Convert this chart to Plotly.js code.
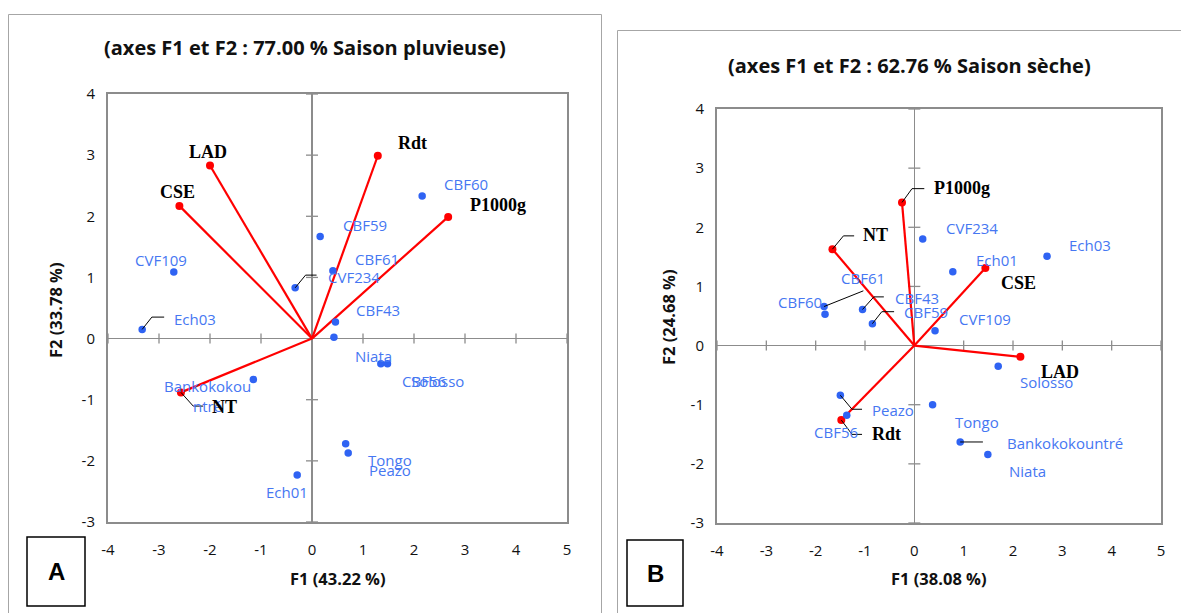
<!DOCTYPE html>
<html><head><meta charset="utf-8">
<script src="https://cdn.plot.ly/plotly-3.0.1.min.js"></script>
<style>html,body{margin:0;padding:0;background:#fff}#chart{width:1181px;height:613px}</style>
</head><body><div id="chart"></div>
<script>
// ---------- DATA: panel A (rainy season) ----------
var obsA = ['CBF60','CBF59','CBF61','CVF234','CBF43','CVF109','Ech03','Niata','CBF56','Solosso','Bankokokountré','Tongo','Peazo','Ech01'];
var obsA_F1 = [2.16, 0.16, 0.41, -0.33, 0.46, -2.71, -3.33, 0.43, 1.35, 1.48, -1.15, 0.66, 0.71, -0.29];
var obsA_F2 = [2.33, 1.67, 1.11, 0.83, 0.27, 1.09, 0.15, 0.02, -0.41, -0.41, -0.67, -1.72, -1.87, -2.23];
var varA = ['LAD','CSE','Rdt','P1000g','NT'];
var varA_F1 = [-2.00, -2.60, 1.29, 2.67, -2.57];
var varA_F2 = [2.83, 2.17, 2.99, 1.99, -0.88];

// ---------- DATA: panel B (dry season) ----------
var obsB = ['CVF234','Ech03','Ech01','CVF109','CBF61','CBF60','CBF43','CBF59','Peazo','CBF56','Solosso','Tongo','Bankokokountré','Niata'];
var obsB_F1 = [0.17, 2.69, 0.78, 0.42, -1.83, -1.81, -1.05, -0.85, -1.50, -1.37, 1.70, 0.37, 0.93, 1.49];
var obsB_F2 = [1.80, 1.51, 1.25, 0.25, 0.66, 0.53, 0.61, 0.37, -0.84, -1.18, -0.35, -1.00, -1.63, -1.84];
var varB = ['P1000g','NT','CSE','LAD','Rdt'];
var varB_F1 = [-0.25, -1.66, 1.44, 2.15, -1.48];
var varB_F2 = [2.42, 1.63, 1.31, -0.19, -1.26];

// ---------- TEXTS / TICKS ----------
var titleA = '(axes F1 et F2 : 77.00 % Saison pluvieuse)';
var titleB = '(axes F1 et F2 : 62.76 % Saison sèche)';
var xTitleA = 'F1 (43.22 %)', yTitleA = 'F2 (33.78 %)';
var xTitleB = 'F1 (38.08 %)', yTitleB = 'F2 (24.68 %)';
var xTicks = [-4,-3,-2,-1,0,1,2,3,4,5];
var yTicks = [-3,-2,-1,0,1,2,3,4];

// ---------- LABEL PLACEMENT (pixel offsets, screen y down) ----------
var offA = {
  'CBF60':[43.5,-11.7],'CBF59':[44.8,-11],'CBF61':[44.5,-12],'CVF234':[58.9,-11],'CBF43':[42.5,-12.3],
  'CVF109':[-13.2,-12],'Ech03':[52.8,-10.3],'Niata':[40,18.4],'CBF56':[43,17],'Solosso':[50,17],
  'Bankokokountré':[-46,16.7],'Tongo':[44,16],'Peazo':[42,17],'Ech01':[-10,17]
};
var offVarA = {'LAD':[-2,-13.4],'CSE':[-1.5,-13.7],'Rdt':[35,-12.7],'P1000g':[49.5,-12],'NT':[43.7,14.4]};
var leadA = {'Ech03':[[0,0],[9.7,-12.3],[22,-12.3]], 'CVF234':[[0,0],[10.4,-12.7],[21.4,-12.7]]};
var leadVarA = {'NT':[[0,0],[12.3,13.7],[22.3,13.7]]};

var offB = {
  'CVF234':[49,-11],'Ech03':[42.8,-11.3],'Ech01':[43.8,-12],'CVF109':[50,-12],'CBF61':[38.5,-29],
  'CBF60':[-25,-12.6],'CBF43':[54,-11],'CBF59':[53.7,-11.4],'Peazo':[52.5,15],'CBF56':[-10.4,16.4],
  'Solosso':[48.3,15.7],'Tongo':[44,17],'Bankokokountré':[105,0.7],'Niata':[40,16.4]
};
var offVarB = {'P1000g':[59.5,-14],'NT':[43.4,-14.3],'CSE':[33,15],'LAD':[40,15],'Rdt':[44.7,14.3]};
var leadB = {'CBF61':[[0,0],[39.3,-15.7]], 'CBF43':[[0,0],[11.3,-12.6],[21.3,-12.6]],
  'CBF59':[[0,0],[9.4,-12],[21.7,-12]], 'Peazo':[[0,0],[11.7,14],[21.7,14]], 'Bankokokountré':[[0,0],[22.7,0]]};
var leadVarB = {'P1000g':[[0,0],[10,-13.8],[22.3,-13.8]], 'NT':[[0,0],[11,-13.3],[21.7,-13.3]], 'Rdt':[[0,0],[10.7,14.3],[20.7,14.3]]};

// ---------- STYLES ----------
var W = 1181, H = 613;
var BLUE_M = '#2f63f3', BLUE_T = '#4677f2', RED = '#ff0000', GREY = '#8c8c8c';
var sansF = "'Open Sans', 'DejaVu Sans', sans-serif";
var serifF = "'Liberation Serif', 'DejaVu Serif', serif";
function px(x){return x/W;} function py(y){return 1-y/H;}

function vecTrace(xs, ys, xa, ya){
  var lx=[], ly=[];
  for(var i=0;i<xs.length;i++){ lx.push(0, xs[i], null); ly.push(0, ys[i], null); }
  return [
    {type:'scatter', mode:'lines', x:lx, y:ly, xaxis:xa, yaxis:ya, line:{color:RED, width:2.2}, hoverinfo:'skip'},
    {type:'scatter', mode:'markers', x:xs, y:ys, xaxis:xa, yaxis:ya, marker:{color:RED, size:8}, hoverinfo:'skip'}
  ];
}
function obsTrace(xs, ys, xa, ya){
  return {type:'scatter', mode:'markers', x:xs, y:ys, xaxis:xa, yaxis:ya, marker:{color:BLUE_M, size:7.5}, hoverinfo:'skip'};
}

var traces = [];
traces = traces.concat(vecTrace(varA_F1, varA_F2, 'x', 'y'));
traces.push(obsTrace(obsA_F1, obsA_F2, 'x', 'y'));
traces = traces.concat(vecTrace(varB_F1, varB_F2, 'x2', 'y2'));
traces.push(obsTrace(obsB_F1, obsB_F2, 'x2', 'y2'));

var annotations = [], shapes = [];

function labels(names, xs, ys, off, lead, xr, yr, font){
  for(var i=0;i<names.length;i++){
    var o = off[names[i]] || [40,-12];
    var txt = names[i];
    if(font === 'obs' && xr === 'x' && names[i] === 'Bankokokountré') txt = 'Bankokokou<br>ntré';
    annotations.push({xref:xr, yref:yr, x:xs[i], y:ys[i], text:txt, showarrow:false,
      xshift:o[0], yshift:-o[1], xanchor:'center', yanchor:'middle', align:'center',
      font: font==='obs' ? {family:sansF, size:15, color:BLUE_T} : {family:serifF, size:18, color:'#000', weight:'bold'}});
    var L = lead[names[i]];
    if(L){
      var p = 'M' + L.map(function(q){return q[0]+','+(-q[1]);}).join(' L');
      shapes.push({type:'path', xref:xr, yref:yr, xsizemode:'pixel', ysizemode:'pixel',
        xanchor:xs[i], yanchor:ys[i], path:p, line:{color:'#000', width:1}, layer:'above'});
    }
  }
}
labels(obsA, obsA_F1, obsA_F2, offA, leadA, 'x', 'y', 'obs');
labels(varA, varA_F1, varA_F2, offVarA, leadVarA, 'x', 'y', 'var');
labels(obsB, obsB_F1, obsB_F2, offB, leadB, 'x2', 'y2', 'obs');
labels(varB, varB_F1, varB_F2, offVarB, leadVarB, 'x2', 'y2', 'var');

// crossing tick marks on the zero axes
function zeroTicks(xr, yr){
  xTicks.forEach(function(t){ if(t!==0) shapes.push({type:'line', xref:xr, yref:yr, ysizemode:'pixel', yanchor:0,
    x0:t, x1:t, y0:-5, y1:5, line:{color:GREY, width:1.3}, layer:'below'}); });
  yTicks.forEach(function(t){ if(t!==0) shapes.push({type:'line', xref:xr, yref:yr, xsizemode:'pixel', xanchor:0,
    y0:t, y1:t, x0:-6, x1:6, line:{color:GREY, width:1.3}, layer:'below'}); });
}
zeroTicks('x','y'); zeroTicks('x2','y2');

// chart frames and panel letters
shapes.push({type:'rect', xref:'paper', yref:'paper', x0:px(8.5), x1:px(601.5), y0:py(620), y1:py(14.5), line:{color:'#a6a6a6', width:1}});
shapes.push({type:'rect', xref:'paper', yref:'paper', x0:px(617.5), x1:px(1185), y0:py(620), y1:py(30.5), line:{color:'#a6a6a6', width:1}});
shapes.push({type:'rect', xref:'paper', yref:'paper', x0:px(27), x1:px(85), y0:py(606), y1:py(537), line:{color:'#000', width:1.5}});
shapes.push({type:'rect', xref:'paper', yref:'paper', x0:px(627), x1:px(683), y0:py(606), y1:py(540), line:{color:'#000', width:1.5}});

function paperText(t, x, y, size, angle, fam, col){
  annotations.push({xref:'paper', yref:'paper', x:px(x), y:py(y), text:t, showarrow:false, textangle:angle||0,
    xanchor:'center', yanchor:'middle', font:{family:fam||sansF, size:size, color:col||'#111', weight:'bold'}});
}
paperText(titleA, 305, 47, 20);
paperText(titleB, 909, 65, 20);
paperText(xTitleA, 338, 578, 16.5);
paperText(xTitleB, 939, 578, 16.5);
paperText(yTitleA, 55, 310, 16.5, -90);
paperText(yTitleB, 668, 317, 16.5, -90);
paperText('A', 56, 571, 24, 0, "'Liberation Sans', Arial, sans-serif", '#000');
paperText('B', 655, 573, 24, 0, "'Liberation Sans', Arial, sans-serif", '#000');

function axis(domain, range, ticks, anchor, len){
  return {domain:domain, range:range, tickvals:ticks, ticktext:ticks.map(String), showgrid:false,
    zeroline:true, zerolinecolor:GREY, zerolinewidth:1.3, showline:true, mirror:true, linecolor:GREY, linewidth:2,
    ticks:'outside', ticklen:len, tickcolor:'rgba(0,0,0,0)', tickfont:{family:sansF, size:15, color:'#111'},
    anchor:anchor, fixedrange:true};
}
var layout = {
  width:W, height:H, margin:{l:0,r:0,t:0,b:0}, showlegend:false,
  paper_bgcolor:'#fff', plot_bgcolor:'#fff',
  xaxis: axis([px(108), px(567)], [-4,5], xTicks, 'y', 13),
  yaxis: axis([py(522), py(94)], [-3,4], yTicks, 'x', 8),
  xaxis2: axis([px(717), px(1161)], [-4,5], xTicks, 'y2', 13),
  yaxis2: axis([py(523), py(109)], [-3,4], yTicks, 'x2', 8),
  annotations: annotations, shapes: shapes
};
Plotly.newPlot('chart', traces, layout, {displayModeBar:false, staticPlot:true});
</script></body></html>
